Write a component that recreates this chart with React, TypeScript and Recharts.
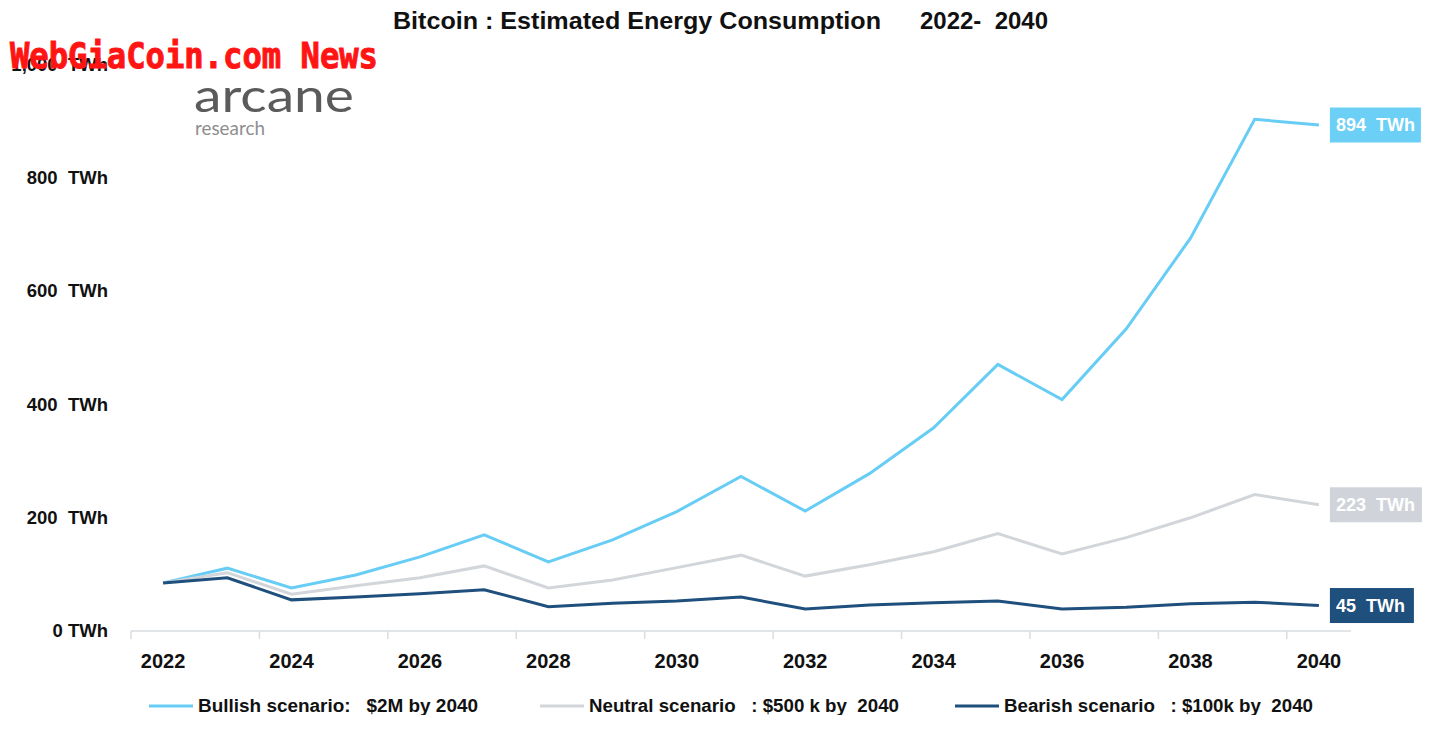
import React from 'react';
import { LineChart, Line, XAxis, YAxis, Legend, LabelList } from 'recharts';

const years = [2022, 2023, 2024, 2025, 2026, 2027, 2028, 2029, 2030, 2031, 2032, 2033, 2034, 2035, 2036, 2037, 2038, 2039, 2040];
const bullish = [85, 111, 76, 99, 131, 170, 122, 161, 211, 273, 212, 278, 359, 471, 409, 534, 694, 904, 894];
const neutral = [85, 103, 65, 80, 94, 115, 76, 90, 112, 134, 97, 117, 140, 172, 136, 165, 200, 241, 223];
const bearish = [85, 94, 55, 60, 66, 73, 43, 49, 53, 60, 39, 46, 50, 53, 39, 42, 48, 51, 45];

const xLabelTicks = [2022, 2024, 2026, 2028, 2030, 2032, 2034, 2036, 2038, 2040];
const xDividerTicks = [2021.5, 2023.5, 2025.5, 2027.5, 2029.5, 2031.5, 2033.5, 2035.5, 2037.5, 2039.5];
const yTicks = [0, 200, 400, 600, 800, 1000];

const seriesKeys = ['bull', 'neutral', 'bear'];
const legendNames = [
  'Bullish scenario:   $2M by 2040',
  'Neutral scenario   : $500 k by  2040',
  'Bearish scenario   : $100k by  2040',
];

const COLORS = { bull: '#67CDF5', neutral: '#D2D5DA', bear: '#1F4F7C' };
const FONT = '"Liberation Sans", Arial, Helvetica, sans-serif';

const data = years.map((y, i) => ({ year: y, bull: bullish[i], neutral: neutral[i], bear: bearish[i] }));

const YTick = (props: any) => {
  const { x, y, payload } = props;
  const v = payload.value as number;
  const txt = v === 0 ? '0 TWh' : `${v.toLocaleString('en-US')}  TWh`;
  return (
    <text x={x} y={y} dy={6} textAnchor="end" fill="#111" fontFamily={FONT} fontWeight={700} fontSize={18.5} style={{ whiteSpace: 'pre' }}>
      {txt}
    </text>
  );
};

const XTick = (props: any) => {
  const { x, y, payload } = props;
  return (
    <text x={x} y={y} dy={14} textAnchor="middle" fill="#111" fontFamily={FONT} fontWeight={700} fontSize={20}>
      {payload.value}
    </text>
  );
};

const EmptyTick = () => <g />;

const makeEndLabel = (fill: string, boxW: number, textW: number, last: number) => (props: any) => {
  const { x, y, index, value } = props;
  if (index !== last || x == null || y == null) return null;
  const bx = x + 11;
  return (
    <g>
      <rect x={bx} y={y - 17.5} width={boxW} height={35} fill={fill} />
      <text x={bx + 6} y={y + 6.5} fill="#fff" fontFamily={FONT} fontWeight={700} fontSize={18} textLength={textW} lengthAdjust="spacingAndGlyphs" style={{ whiteSpace: 'pre' }}>
        {`${value}  TWh`}
      </text>
    </g>
  );
};

const legendX = [149, 540, 955];
const legendTextW = [280, 310, 309];

const LegendContent = (props: any) => {
  const payload = props.payload || [];
  return (
    <svg width={1432} height={36} style={{ display: 'block' }}>
      {payload.map((p: any) => {
        const i = seriesKeys.indexOf(p.dataKey);
        if (i < 0) return null;
        return (
          <g key={p.dataKey}>
            <line x1={legendX[i]} x2={legendX[i] + 44} y1={27} y2={27} stroke={p.color} strokeWidth={3} />
            <text x={legendX[i] + 49} y={33} fill="#111" fontFamily={FONT} fontWeight={700} fontSize={17.5} textLength={legendTextW[i]} lengthAdjust="spacingAndGlyphs" style={{ whiteSpace: 'pre' }}>
              {legendNames[i]}
            </text>
          </g>
        );
      })}
    </svg>
  );
};

export default function App() {
  const last = years.length - 1;
  return (
    <div style={{ position: 'absolute', left: 0, top: 0, width: 1432, height: 730, background: '#fff', overflow: 'hidden' }}>
      <LineChart width={1432} height={730} data={data} margin={{ top: 65, right: 81, left: 0, bottom: 15 }}>
        <XAxis
          xAxisId="div"
          dataKey="year"
          type="number"
          domain={[2021.5, 2040.5]}
          allowDataOverflow
          ticks={xDividerTicks}
          interval={0}
          tick={EmptyTick}
          tickSize={8}
          height={8}
          axisLine={{ stroke: '#D9DCE1', strokeWidth: 1.5 }}
          tickLine={{ stroke: '#D9DCE1', strokeWidth: 1.5 }}
        />
        <XAxis
          xAxisId="lab"
          dataKey="year"
          type="number"
          domain={[2021.5, 2040.5]}
          allowDataOverflow
          ticks={xLabelTicks}
          interval={0}
          tick={XTick}
          tickSize={0}
          tickMargin={15}
          height={40}
          axisLine={false}
          tickLine={false}
        />
        <YAxis
          domain={[0, 1000]}
          ticks={yTicks}
          interval={0}
          width={131}
          axisLine={false}
          tickLine={false}
          tickSize={0}
          tickMargin={23}
          tick={YTick}
        />
        <Legend verticalAlign="bottom" content={LegendContent} wrapperStyle={{ left: 0, width: 1432 }} />
        <Line xAxisId="lab" name={legendNames[0]} dataKey="bull" stroke={COLORS.bull} strokeWidth={3} dot={false} isAnimationActive={false}>
          <LabelList dataKey="bull" content={makeEndLabel('#6BCFF6', 91, 79, last)} />
        </Line>
        <Line xAxisId="lab" name={legendNames[1]} dataKey="neutral" stroke={COLORS.neutral} strokeWidth={3} dot={false} isAnimationActive={false}>
          <LabelList dataKey="neutral" content={makeEndLabel('#D0D4DA', 92, 79, last)} />
        </Line>
        <Line xAxisId="lab" name={legendNames[2]} dataKey="bear" stroke={COLORS.bear} strokeWidth={3} dot={false} isAnimationActive={false}>
          <LabelList dataKey="bear" content={makeEndLabel('#1F4F7D', 84, 69, last)} />
        </Line>
      </LineChart>
      <svg width={1432} height={150} style={{ position: 'absolute', left: 0, top: 0, pointerEvents: 'none' }}>
        <text x={393} y={29} fill="#111" fontFamily={FONT} fontWeight={700} fontSize={24} textLength={488} lengthAdjust="spacingAndGlyphs">
          Bitcoin : Estimated Energy Consumption
        </text>
        <text x={920} y={29} fill="#111" fontFamily={FONT} fontWeight={700} fontSize={24} textLength={128} lengthAdjust="spacingAndGlyphs" style={{ whiteSpace: 'pre' }}>
          {'2022-  2040'}
        </text>
        <text x={10} y={68} fill="#FF1414" stroke="#FF1414" strokeWidth={1} fontFamily={'"DejaVu Sans Mono", "Liberation Mono", monospace'} fontWeight={700} fontSize={35} textLength={368} lengthAdjust="spacingAndGlyphs">
          WebGiaCoin.com News
        </text>
        <text x={194} y={112} fill="#5B5B5B" fontFamily={'Lato, "Open Sans", sans-serif'} fontWeight={400} fontSize={46} textLength={160} lengthAdjust="spacingAndGlyphs">
          arcane
        </text>
        <text x={195} y={135} fill="#8E8E8E" fontFamily={'Lato, "Open Sans", sans-serif'} fontWeight={400} fontSize={19} textLength={70} lengthAdjust="spacingAndGlyphs">
          research
        </text>
      </svg>
    </div>
  );
}
